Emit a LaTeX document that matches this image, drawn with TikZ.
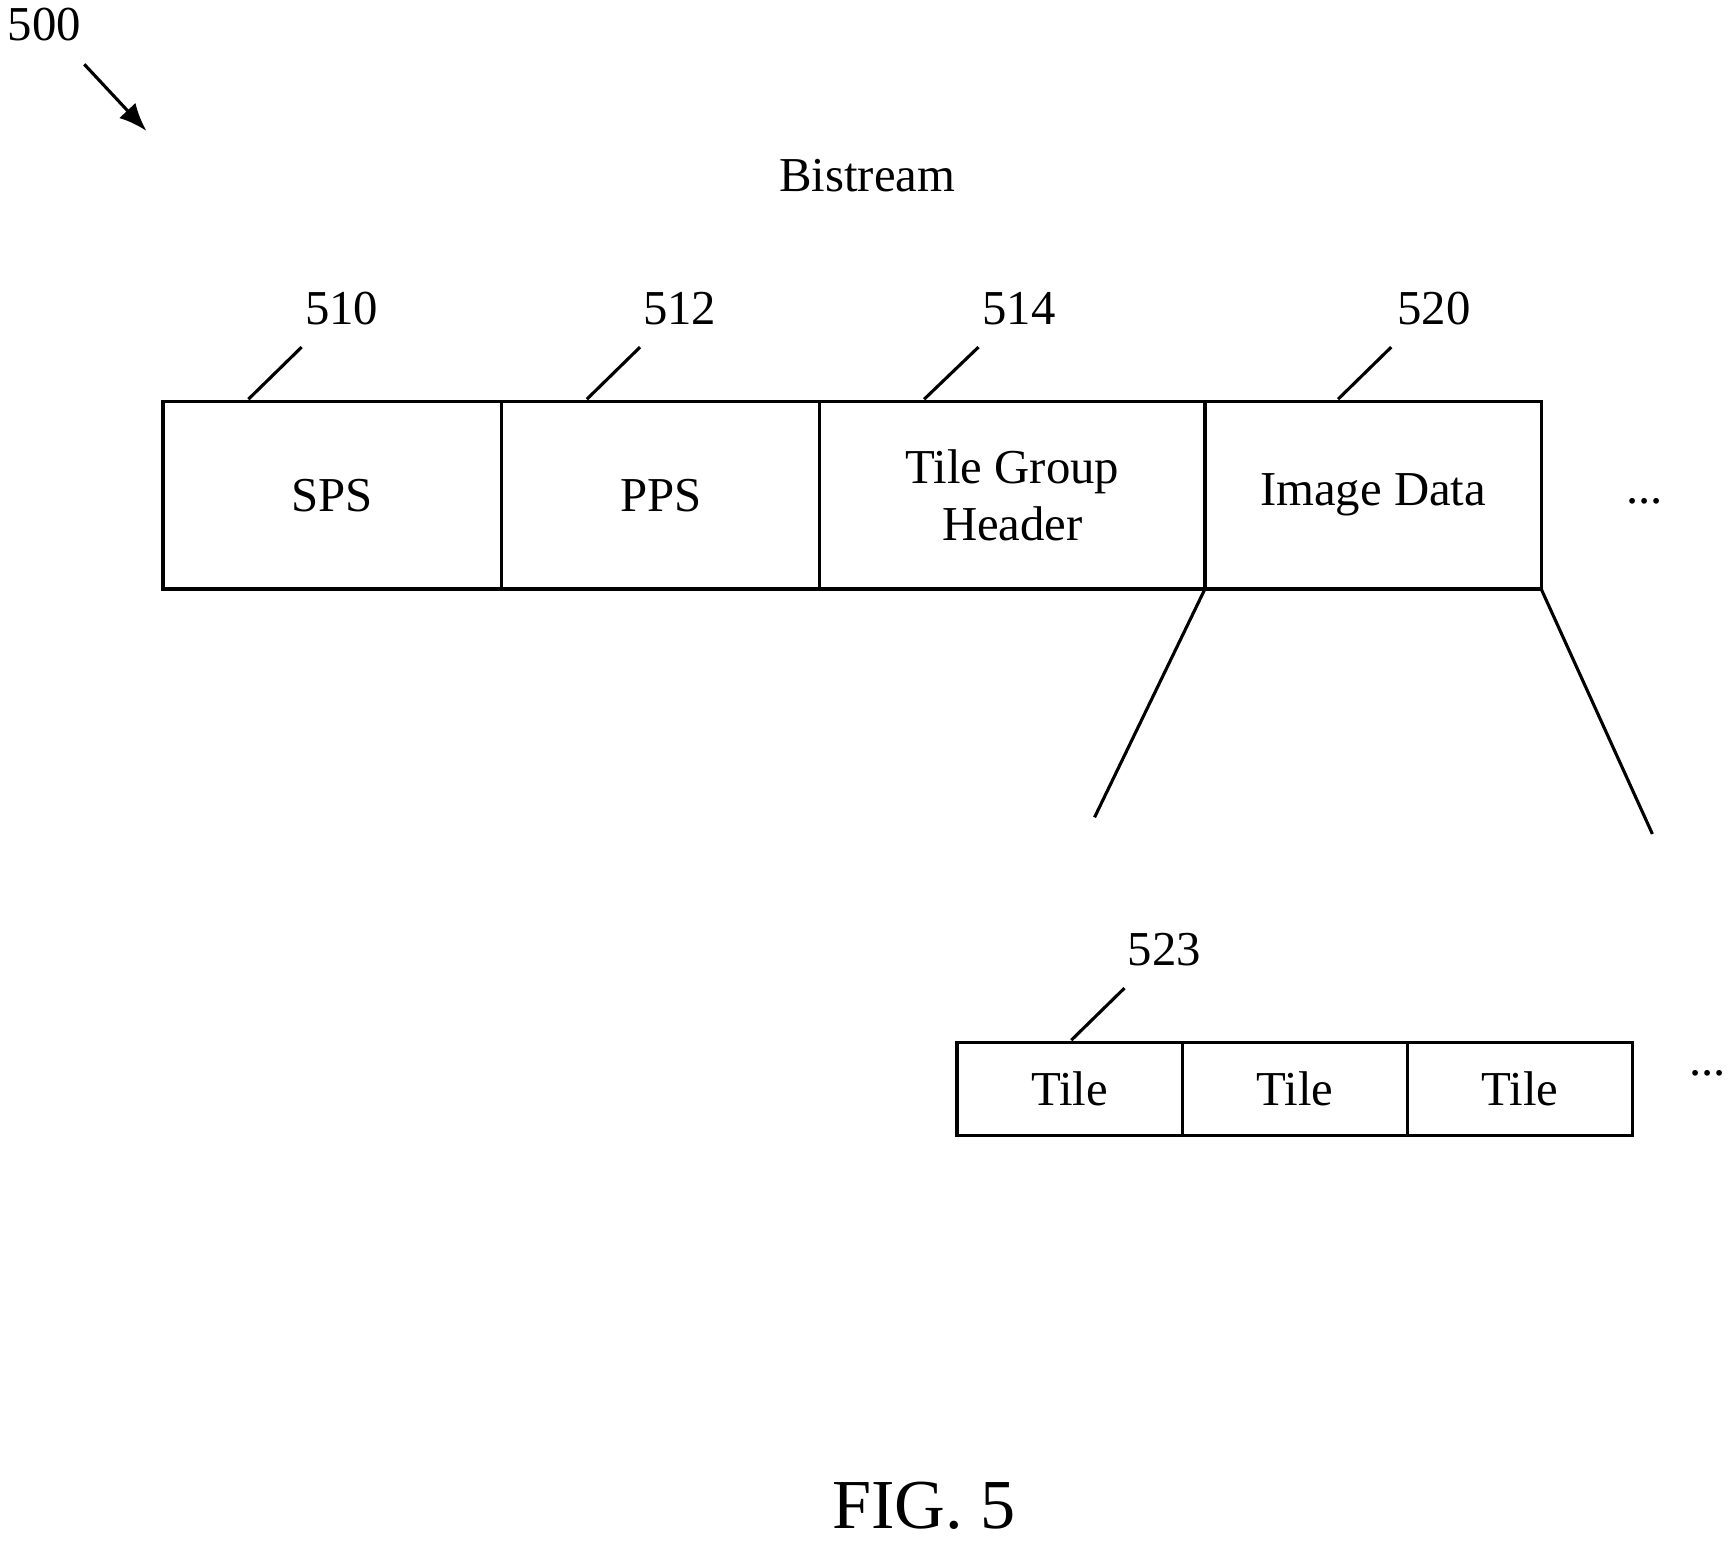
\documentclass[tikz,border=0pt]{standalone}
\usepackage{fontspec}
\setmainfont{Liberation Serif}
\usetikzlibrary{positioning,arrows.meta}

\begin{document}
\begin{tikzpicture}[x=0.01cm, y=-0.01cm, line width=0.8pt,
  field/.style={draw, minimum height=1.69cm, inner sep=0pt, outer sep=0pt, align=center, font=\fontsize{12.5}{14.5}\selectfont},
  tile/.style={draw, minimum height=0.84cm, minimum width=2.03cm, inner sep=0pt, outer sep=0pt, font=\fontsize{12.5}{14.5}\selectfont},
  ref/.style={font=\fontsize{12.5}{14.5}\selectfont, inner sep=1pt}]
\useasboundingbox (0,0) rectangle (1560,1398);

\node[ref] (fig) at (40,22) {500};
\coordinate (figa) at (76,58);
\coordinate (figb) at (132,118);
\draw[-{Latex[length=2.5mm,width=2mm]}] (figa) -- (figb);
\node[ref] (title) at (782,158) {Bistream};

% top row
\node[field, minimum width=3.05cm, anchor=north west] (sps) at (147,362) {SPS};
\node[field, minimum width=2.87cm, right=0pt of sps] (pps) {PPS};
\node[field, minimum width=3.47cm, right=0pt of pps] (tgh) {Tile Group\\Header};
\node[field, minimum width=3.03cm, right=0pt of tgh] (img) {Image Data};
\node[ref] (dots) at (1483,452) {...};

\node[ref] (l510) at (308,278) {510};
\node[ref] (l512) at (613,278) {512};
\node[ref] (l514) at (919,278) {514};
\node[ref] (l520) at (1293,278) {520};
\draw (sps.north west) ++(77,-2) -- ++(48,-47);
\draw (pps.north west) ++(77,-2) -- ++(48,-47);
\draw (tgh.north west) ++(94,-2) -- ++(49,-47);
\draw (img.north west) ++(120,-2) -- ++(48,-47);

% fan out
\coordinate (fanl) at (987,737);
\coordinate (fanr) at (1490,752);
\draw (img.south west) -- (fanl);
\draw (img.south east) -- (fanr);

% tiles
\node[tile, anchor=north west] (t1) at (863,940) {Tile};
\node[tile, right=0pt of t1] (t2) {Tile};
\node[tile, right=0pt of t2] (t3) {Tile};
\node[ref] (tdots) at (1540,968) {...};
\node[ref] (l523) at (1050,856) {523};
\draw (t1.north west) ++(103,-2) -- ++(48,-47);

\node[font=\fontsize{18}{21}\selectfont] (caption) at (833,1358) {FIG. 5};
\end{tikzpicture}
\end{document}
